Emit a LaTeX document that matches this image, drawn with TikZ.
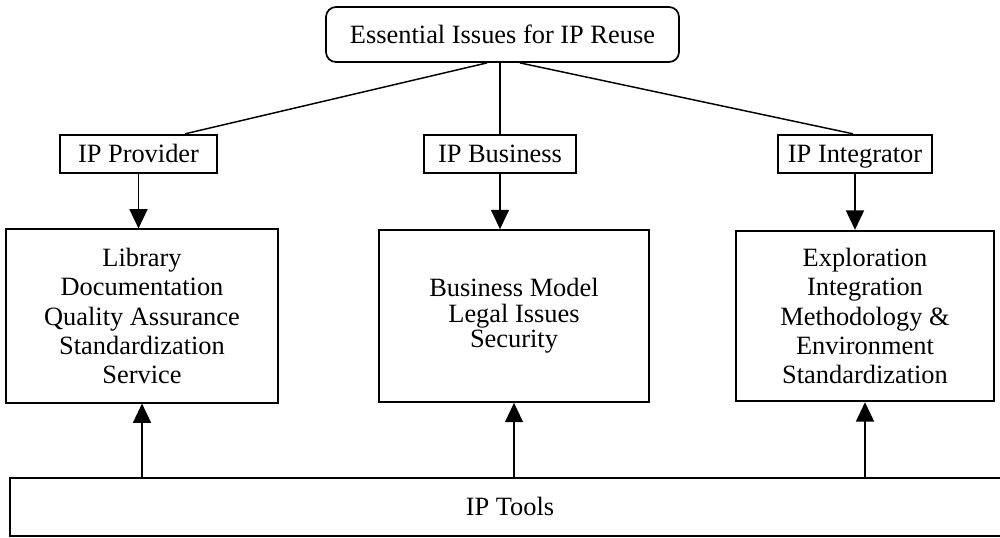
\documentclass[tikz,border=0pt]{standalone}
\usepackage{fontspec}
\setmainfont{Liberation Serif}
\usetikzlibrary{arrows.meta}

\tikzset{
  box/.style={draw, line width=1.3pt, inner sep=0pt, align=center,
    font=\fontsize{19.8}{22}\selectfont},
  party/.style={box, text height=17pt, text depth=4pt},
  link/.style={line width=1.1pt},
  arrow/.style={line width=1.1pt, -{Triangle[width=13.5pt,length=14.5pt]}},
}

\begin{document}
\begin{tikzpicture}[x=0.75pt,y=-0.75pt]
\useasboundingbox (0,0) rectangle (1000,537);
% top and the three parties
\node[party, rounded corners=7.5pt, minimum width=264.75pt, minimum height=41.25pt] (reuse) at (502.5,34.5) {Essential Issues for IP Reuse};
\node[party, minimum width=117.75pt, minimum height=29pt] (prov) at (138.5,154) {IP Provider};
\node[party, minimum width=114pt, minimum height=29pt] (bus) at (500,154) {IP Business};
\node[party, minimum width=115.5pt, minimum height=29pt] (integ) at (855,154) {IP Integrator};
% issue boxes
\node[box, minimum width=204pt, minimum height=130pt] (lib) at (142,316) {Library\\Documentation\\Quality Assurance\\Standardization\\Service};
\node[box, font=\fontsize{19.8}{19}\selectfont, minimum width=202.5pt, minimum height=129pt] (busm) at (514,316) {Business Model\\Legal Issues\\Security};
\node[box, minimum width=193.5pt, minimum height=128pt] (expl) at (865,316) {Exploration\\Integration\\Methodology \&\\Environment\\Standardization};
\node[party, minimum width=750pt, minimum height=43.5pt] (tools) at (510,507) {IP Tools};
% links
\draw[link] ([xshift=-11.6pt]reuse.south) -- ([xshift=35pt]prov.north);
\draw[link] (bus.north |- reuse.south) -- (bus.north);
\draw[link] ([xshift=13pt]reuse.south) -- ([xshift=-1.5pt]integ.north);
\draw[arrow] (prov.south) -- (prov.south |- lib.north);
\draw[arrow] (bus.south) -- (bus.south |- busm.north);
\draw[arrow] (integ.south) -- (integ.south |- expl.north);
\draw[arrow] (lib.south |- tools.north) -- (lib.south);
\draw[arrow] (busm.south |- tools.north) -- (busm.south);
\draw[arrow] (expl.south |- tools.north) -- (expl.south);
\end{tikzpicture}
\end{document}
